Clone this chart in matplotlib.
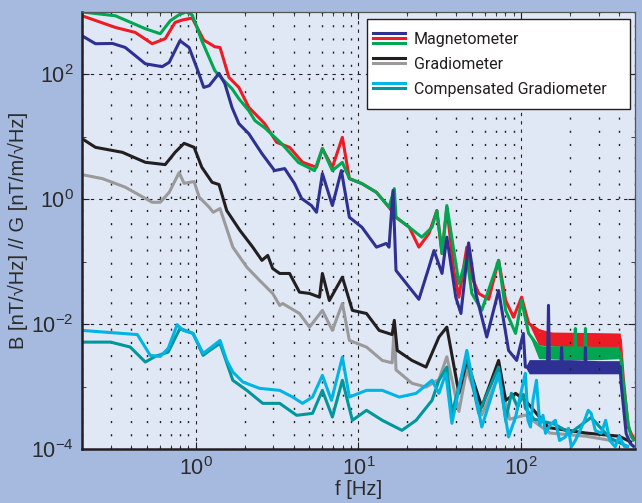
import matplotlib
matplotlib.use('Agg')
import matplotlib.pyplot as plt
from matplotlib.lines import Line2D
from matplotlib.legend_handler import HandlerBase
from matplotlib.ticker import LogLocator, NullFormatter

# magnetometer (three channels)
f_red = [0.20, 0.321, 0.425, 0.54, 0.649, 0.747, 0.824, 0.95, 1.02, 1.12, 1.31, 1.41, 1.60, 1.84,
         2.12, 2.65, 3.14, 3.77, 4.53, 5.52, 6.0, 6.91, 7.96, 8.79, 10.5, 12.9, 15.4, 17.0, 20.5,
         23.5, 27.1, 30.3, 32.6, 34.9, 38.5, 41.4, 46.3, 49.7, 54.8, 63.1, 72.6, 80.2, 89.7, 100.5,
         111, 128, 200, 300, 406, 423, 454, 473, 490]
v_red = [870, 565, 470, 310, 373, 680, 742, 800, 565, 355, 277, 270, 89.5, 61.9,
         29.6, 16.3, 8.17, 6.79, 3.91, 3.25, 6.48, 3.25, 9.82, 2.14, 1.78, 1.29, 0.745, 0.515, 0.356,
         0.171, 0.283, 0.659, 0.135, 0.745, 0.0723, 0.027, 0.171, 0.0565, 0.031, 0.025, 0.105, 0.0239, 0.0129, 0.027,
         0.0103, 0.0079, 0.0057, 0.0057, 0.0057, 0.00142, 0.000225, 0.000178, 0.00015]
f_red_band = [111, 128, 200, 300, 406, 415]
lo_red_band = [0.0103, 0.0046, 0.0043, 0.0043, 0.0044, 0.0029]
hi_red_band = [0.0103, 0.0075, 0.0074, 0.0073, 0.0072, 0.0031]

f_green = [0.20, 0.321, 0.49, 0.605, 0.697, 0.79, 0.87, 0.95, 1.02, 1.09, 1.31, 1.45, 1.67, 1.84,
           2.12, 2.31, 2.65, 3.37, 4.28, 5.37, 6.0, 6.91, 7.96, 8.79, 10.5, 12.9, 15.4, 16.6, 17.0,
           20.5, 24.5, 28.3, 30.3, 32.6, 34.9, 41.4, 46.3, 49.7, 57.2, 72.6, 80.2, 92.3, 100.5, 111,
           128, 160, 213, 215, 217, 246, 248, 250, 406, 423, 454, 473, 490]
v_green = [1000, 869, 539, 448, 723, 902, 1000, 902, 559, 346, 115, 85.3, 59, 40.8,
           26.2, 18.2, 14.0, 7.79, 3.87, 2.88, 6.48, 2.88, 3.9, 2.14, 1.78, 1.29, 0.745, 1.48, 0.515,
           0.356, 0.247, 0.356, 0.659, 0.135, 0.793, 0.0448, 0.118, 0.031, 0.0166, 0.105, 0.0166, 0.0071, 0.0239, 0.0071,
           0.0043, 0.0035, 0.0035, 0.0085, 0.0035, 0.0035, 0.0085, 0.0035, 0.0035, 0.0012, 0.00025, 0.00016, 0.00014]
f_green_band = [111, 128, 200, 300, 406, 415]
lo_green_band = [0.0071, 0.0028, 0.0027, 0.0027, 0.0028, 0.0019]
hi_green_band = [0.0071, 0.0045, 0.0045, 0.0044, 0.0044, 0.0021]

f_blue = [0.20, 0.242, 0.308, 0.369, 0.49, 0.622, 0.687, 0.80, 0.91, 1.02, 1.12, 1.21, 1.39, 1.51,
          1.67, 1.84, 2.12, 2.55, 3.05, 3.52, 4.05, 4.47, 5.14, 5.52, 6.0, 6.91, 7.85, 8.79, 10.5,
          12.9, 14.8, 15.4, 16.3, 17.0, 20.5, 23.5, 27.1, 29.1, 32.6, 34.9, 39.6, 42.6, 47.5, 52.6,
          61.4, 72.6, 83.6, 93.7, 103, 106, 145, 147, 149, 175, 177, 179, 246, 248, 250, 405, 411,
          441, 467, 490]
v_blue = [416, 310, 313, 270, 148, 133, 156, 346, 270, 123, 61.9, 65.9, 104, 71,
          29.6, 16.3, 11.2, 5.39, 2.88, 3.10, 1.78, 1.03, 0.793, 0.619, 2.58, 0.793, 2.88, 0.515, 0.356,
          0.171, 0.196, 0.171, 1.38, 0.0723, 0.0391, 0.025, 0.0817, 0.151, 0.0648, 0.247, 0.027, 0.0148, 0.2, 0.031,
          0.0062, 0.0346, 0.00379, 0.00262, 0.0071, 0.00205, 0.0021, 0.02, 0.0021, 0.0021, 0.0042, 0.0021, 0.0021, 0.0042,
          0.0021, 0.0021, 0.0011, 0.000178, 0.000123, 0.00011]
f_blue_band = [106, 112, 200, 300, 405, 411]
lo_blue_band = [0.00205, 0.0016, 0.0016, 0.0016, 0.0016, 0.0011]
hi_blue_band = [0.00205, 0.0027, 0.0027, 0.0026, 0.0026, 0.0011]

# gradiometer (two channels)
f_black = [0.20, 0.242, 0.354, 0.49, 0.649, 0.747, 0.848, 0.977, 1.09, 1.26, 1.39, 1.55, 1.87, 2.24,
           2.55, 2.77, 2.97, 3.28, 3.77, 4.34, 5.0, 5.76, 6.0, 6.62, 7.96, 9.17, 11.2, 13.4, 16.1,
           16.6, 17.3, 21.3, 26.0, 31.2, 34.9, 41.4, 46.3, 57.2, 72.6, 80.2, 92.3, 106, 147, 250, 400, 470]
v_black = [9.36, 6.79, 5.65, 3.91, 3.59, 5.65, 7.87, 6.79, 3.25, 1.87, 1.72, 0.659, 0.316, 0.171,
           0.105, 0.126, 0.0778, 0.0648, 0.0648, 0.0325, 0.031, 0.027, 0.0648, 0.0239, 0.0565, 0.0166, 0.0148, 0.00793, 0.0068,
           0.0115, 0.00379, 0.00262, 0.00205, 0.0062, 0.00895, 0.000778, 0.00262, 0.00047, 0.00262, 0.000601, 0.000778, 0.0006,
           0.00022, 0.00018, 0.00016, 0.00013]

f_gray = [0.20, 0.267, 0.369, 0.54, 0.605, 0.687, 0.79, 0.848, 0.977, 1.05, 1.21, 1.28, 1.41, 1.69,
          2.06, 2.47, 2.97, 3.28, 3.42, 4.34, 5.0, 6.0, 6.91, 7.96, 8.79, 11.2, 14.0, 16.1, 16.6,
          17.0, 21.3, 26.0, 31.2, 34.9, 41.4, 46.3, 57.2, 72.6, 85, 106, 150, 250, 400]
v_gray = [2.48, 2.14, 1.56, 0.895, 0.895, 1.29, 2.67, 1.80, 1.92, 1.08, 0.745, 0.619, 0.71, 0.171,
          0.0817, 0.050, 0.031, 0.0199, 0.0214, 0.0148, 0.00895, 0.0166, 0.00793, 0.0214, 0.00548, 0.00429, 0.00262, 0.0024, 0.0103,
          0.00185, 0.00113, 0.00098, 0.0013, 0.003, 0.0004, 0.0019, 0.00035, 0.0015, 0.0003, 0.00035, 0.00018, 0.00016, 0.00013]

# compensated gradiometer (two channels)
f_teal = [0.20, 0.30, 0.396, 0.49, 0.564, 0.677, 0.80, 0.962, 1.11, 1.22, 1.41, 1.69, 2.06, 2.58,
          3.28, 4.17, 5.22, 6.0, 6.91, 7.96, 9.17, 11.2, 14.0, 18.5, 22.6, 28.3, 31.2, 34.9, 37.5,
          46.3, 54.8, 72.6, 80.2, 87, 95, 103, 106, 120, 160, 200, 269, 350, 450]
v_teal = [0.00515, 0.00515, 0.00429, 0.00247, 0.00304, 0.00356, 0.00853, 0.0071, 0.00316, 0.0038, 0.00491, 0.00126, 0.000869, 0.000538,
          0.000538, 0.000346, 0.000372, 0.000869, 0.000325, 0.00126, 0.000288, 0.000416, 0.000288, 0.000199, 0.000288, 0.000601, 0.00126, 0.00205, 0.000372,
          0.00296, 0.000372, 0.00205, 0.000288, 0.00078, 0.00047, 0.00075, 0.00045, 0.0003, 0.00025, 0.00018, 0.00032, 0.00015, 0.00011]

f_cyan = [0.20, 0.438, 0.525, 0.605, 0.677, 0.769, 0.836, 0.962, 1.11, 1.22, 1.41, 1.55, 1.69, 1.95,
          2.47, 3.28, 3.94, 4.53, 5.22, 6.0, 6.82, 7.96, 8.79, 11.2, 14.0, 17.8, 22.6, 28.3, 31.2,
          34.4, 37.5, 46.3, 57.2, 72.6, 83.6, 92.3, 106, 110, 114, 118, 124, 130, 136, 141, 150,
          162, 172, 187, 195, 203, 215, 230, 245, 258, 269, 285, 310, 330, 350, 378, 400, 430, 450]
v_cyan = [0.00793, 0.0068, 0.00316, 0.00304, 0.00408, 0.0098, 0.00793, 0.0071, 0.0034, 0.00408, 0.00548, 0.00262, 0.00171, 0.00118,
          0.000936, 0.000869, 0.000679, 0.000538, 0.000679, 0.00151, 0.000601, 0.00296, 0.000679, 0.000869, 0.000869, 0.000679, 0.000778, 0.00126, 0.000778,
          0.00163, 0.000258, 0.00379, 0.000225, 0.00163, 0.000156, 0.000325, 0.00163, 0.000288, 0.000225, 0.000601, 0.00126, 0.00024, 0.000346, 0.000178, 0.00024,
          0.000288, 0.000137, 0.000156, 0.000214, 0.000108, 0.000137, 0.000199, 0.000288, 0.000416, 0.000372, 0.000199, 0.000178, 0.000288, 0.000137, 0.000108, 0.00016, 0.00011, 0.00011]

labels = ['Magnetometer', 'Gradiometer', 'Compensated Gradiometer']

c_blue, c_red, c_green = '#2e3192', '#ed1c24', '#00a651'
c_black, c_gray = '#231f20', '#9a9a9c'
c_cyan, c_teal = '#00b4e4', '#00979c'

plt.rcParams['font.family'] = ['Liberation Sans', 'DejaVu Sans']
plt.rcParams['mathtext.default'] = 'regular'


class StackedLines(HandlerBase):
    # draws the channels of one sensor as stacked short lines
    def create_artists(self, legend, orig_handle, xdescent, ydescent,
                       width, height, fontsize, trans):
        step = 3.8
        yc = height / 2 - ydescent
        arts = []
        for i, h in enumerate(orig_handle):
            y = yc + step * (1 - i)
            arts.append(Line2D([-xdescent - 5, width - xdescent], [y, y],
                               color=h.get_color(), lw=2.2, transform=trans))
        return arts


fig = plt.figure(figsize=(6.42, 5.03), dpi=100, facecolor='#a6b9df')
ax = fig.add_axes([0.1277, 0.1074, 0.8614, 0.8688])
ax.set_facecolor('#e1e8f5')

lw = 2.2
l_gray, = ax.plot(f_gray, v_gray, color=c_gray, lw=lw)
l_black, = ax.plot(f_black, v_black, color=c_black, lw=lw)
l_teal, = ax.plot(f_teal, v_teal, color=c_teal, lw=lw)
l_cyan, = ax.plot(f_cyan, v_cyan, color=c_cyan, lw=lw)
ax.fill_between(f_red_band, lo_red_band, hi_red_band, color=c_red, lw=0)
l_red, = ax.plot(f_red, v_red, color=c_red, lw=lw)
ax.fill_between(f_green_band, lo_green_band, hi_green_band, color=c_green, lw=0)
l_green, = ax.plot(f_green, v_green, color=c_green, lw=lw)
ax.fill_between(f_blue_band, lo_blue_band, hi_blue_band, color=c_blue, lw=0)
l_blue, = ax.plot(f_blue, v_blue, color=c_blue, lw=lw)

ax.set_xscale('log')
ax.set_yscale('log')
ax.set_xlim(0.2, 500)
ax.set_ylim(1e-4, 1e3)

ax.set_yticks([1e-4, 1e-2, 1e0, 1e2])
ax.set_yticks([1e-3, 1e-1, 1e1], minor=True)
ax.yaxis.set_minor_formatter(NullFormatter())
ax.xaxis.set_minor_locator(LogLocator(base=10, subs=range(2, 10), numticks=20))
ax.xaxis.set_minor_formatter(NullFormatter())

ax.grid(True, which='major', color='#231f20', lw=0.8, ls=(0, (3, 4.5)))
ax.grid(True, which='minor', axis='x', color='#231f20', lw=1.0, ls=(0, (1.5, 8)))

ax.tick_params(which='both', direction='in', top=True, right=True, colors='#231f20',
               labelcolor='#2b2b2b', labelsize=15.5)
ax.tick_params(which='major', length=5, width=0.8, pad=6)
ax.tick_params(which='minor', length=3, width=0.6)

for s in ['left', 'bottom']:
    ax.spines[s].set_linewidth(1.8)
    ax.spines[s].set_color('#231f20')
for s in ['top', 'right']:
    ax.spines[s].set_linewidth(0.9)
    ax.spines[s].set_color('#555555')

ax.set_xlabel('f [Hz]', fontsize=14.5, color='#2b2b2b', labelpad=0)
ax.set_ylabel('B [nT/\u221aHz] // G [nT/m/\u221aHz]', fontsize=14.5, color='#2b2b2b', labelpad=2)

handles = [(l_blue, l_red, l_green), (l_black, l_gray), (l_cyan, l_teal)]
leg = ax.legend(handles, labels, handler_map={tuple: StackedLines()},
                loc='upper left', bbox_to_anchor=(0.5154, 0.5, 0.4756, 0.484), mode='expand',
                borderaxespad=0, fancybox=False, framealpha=1, edgecolor='#231f20',
                prop={'family': 'Roboto', 'size': 11.5}, handlelength=1.56,
                labelspacing=0.62, borderpad=0.8, handletextpad=0.56)
leg.get_frame().set_linewidth(1.0)
for t in leg.get_texts():
    t.set_color('#231f20')

fig.savefig('out.png', dpi=100, facecolor=fig.get_facecolor())
